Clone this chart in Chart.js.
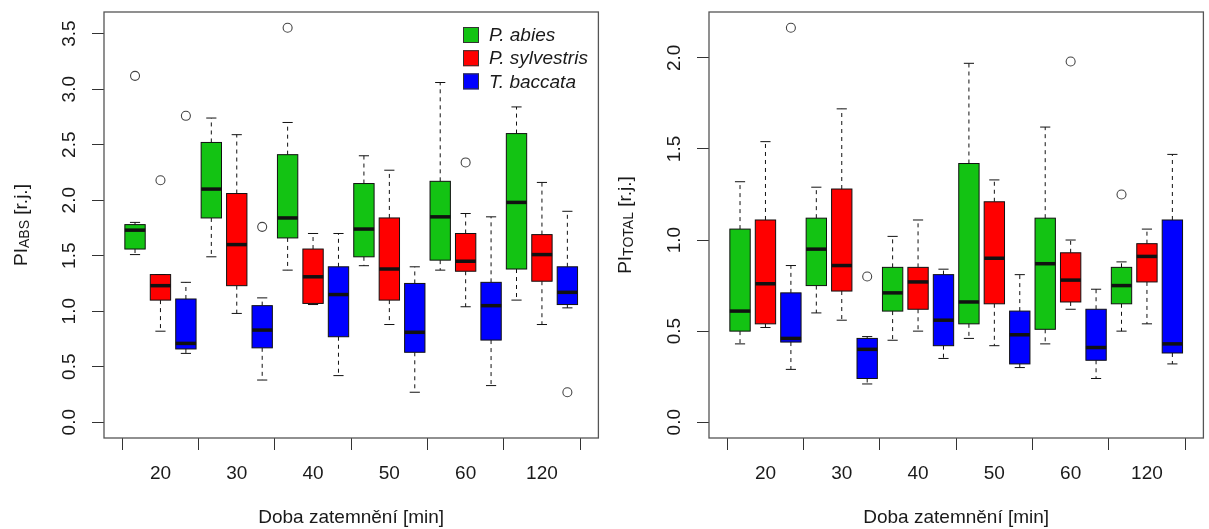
<!DOCTYPE html>
<html>
<head>
<meta charset="utf-8">
<script src="https://cdn.jsdelivr.net/npm/chart.js@4.4.1/dist/chart.umd.min.js"></script>
<style>
  html, body { margin: 0; padding: 0; background: #fff; }
  #wrap { position: relative; width: 1209px; height: 529px; }
  canvas { position: absolute; top: 0; }
  #absChart { left: 0; }
  #totalChart { left: 604px; }
</style>
</head>
<body>
<div id="wrap">
  <canvas id="absChart" width="604" height="529"></canvas>
  <canvas id="totalChart" width="605" height="529"></canvas>
</div>
<script>
const groups = ['20', '30', '40', '50', '60', '120'];
const species = ['P. abies', 'P. sylvestris', 'T. baccata'];
const speciesColors = ['#13c313', '#ff0000', '#0000ff'];

// [lower whisker, Q1, median, Q3, upper whisker] for each time
const absAbies      = [[1.51, 1.56, 1.73, 1.78, 1.80], [1.49, 1.84, 2.10, 2.52, 2.74], [1.37, 1.66, 1.84, 2.41, 2.70],
                       [1.41, 1.49, 1.74, 2.15, 2.40], [1.37, 1.46, 1.85, 2.17, 3.06], [1.10, 1.38, 1.98, 2.60, 2.84]];
const absSylvestris = [[0.82, 1.10, 1.23, 1.33, 1.33], [0.98, 1.23, 1.60, 2.06, 2.59], [1.06, 1.07, 1.31, 1.56, 1.70],
                       [0.88, 1.10, 1.38, 1.84, 2.27], [1.04, 1.36, 1.45, 1.70, 1.88], [0.88, 1.27, 1.51, 1.69, 2.16]];
const absBaccata    = [[0.62, 0.66, 0.71, 1.11, 1.26], [0.38, 0.67, 0.83, 1.05, 1.12], [0.42, 0.77, 1.15, 1.40, 1.70],
                       [0.27, 0.63, 0.81, 1.25, 1.40], [0.33, 0.74, 1.05, 1.26, 1.85], [1.03, 1.06, 1.17, 1.40, 1.90]];

const totalAbies      = [[0.43, 0.50, 0.61, 1.06, 1.32], [0.60, 0.75, 0.95, 1.12, 1.29], [0.45, 0.61, 0.71, 0.85, 1.02],
                         [0.46, 0.54, 0.66, 1.42, 1.97], [0.43, 0.51, 0.87, 1.12, 1.62], [0.50, 0.65, 0.75, 0.85, 0.88]];
const totalSylvestris = [[0.52, 0.54, 0.76, 1.11, 1.54], [0.56, 0.72, 0.86, 1.28, 1.72], [0.50, 0.62, 0.77, 0.85, 1.11],
                         [0.42, 0.65, 0.90, 1.21, 1.33], [0.62, 0.66, 0.78, 0.93, 1.00], [0.54, 0.77, 0.91, 0.98, 1.06]];
const totalBaccata    = [[0.29, 0.44, 0.46, 0.71, 0.86], [0.21, 0.24, 0.40, 0.46, 0.47], [0.35, 0.42, 0.56, 0.81, 0.84],
                         [0.30, 0.32, 0.48, 0.61, 0.81], [0.24, 0.34, 0.41, 0.62, 0.73], [0.32, 0.38, 0.43, 1.11, 1.47]];

// outliers as [time index, value]
const absAbiesOut      = [[0, 3.12], [2, 3.553]];
const absSylvestrisOut = [[0, 2.18], [4, 2.34]];
const absBaccataOut    = [[0, 2.76], [1, 1.76], [5, 0.27]];
const totalAbiesOut      = [[5, 1.25]];
const totalSylvestrisOut = [[4, 1.98]];
const totalBaccataOut    = [[0, 2.165], [1, 0.80]];

const absTicks = [0, 0.5, 1, 1.5, 2, 2.5, 3, 3.5];
const totalTicks = [0, 0.5, 1, 1.5, 2];

const FONT = '"Liberation Sans", Arial, Helvetica, sans-serif';
const FONT_SIZE = 19;
const TEXT = '#1a1a1a';
Chart.defaults.font.family = FONT;
Chart.defaults.font.size = FONT_SIZE;
Chart.defaults.color = TEXT;

// box i of species s sits at g*3 + s + 1, like boxplot(at = 1:18)
const nSpecies = species.length;
const boxPos = (g, s) => g * nSpecies + s + 1;
const groupEdges = groups.map((_, g) => g * nSpecies + 0.5).concat(groups.length * nSpecies + 0.5);
const groupMid = groups.map((_, g) => g * nSpecies + (nSpecies + 1) / 2);
const xLo = groupEdges[0], xHi = groupEdges[groupEdges.length - 1];
const xPad = (xHi - xLo) * 0.04;

const boxPlugin = {
  id: 'boxes',
  beforeDatasetsDraw(chart) {
    const {ctx, scales: {x, y}} = chart;
    chart.data.datasets.forEach((ds, s) => {
      ds.stats.forEach((st, g) => {
        const pos = boxPos(g, s);
        const cx = x.getPixelForValue(pos);
        const half = x.getPixelForValue(pos + 0.4) - cx;
        const cap = half / 2;
        const [lo, q1, med, q3, hi] = st.map(v => y.getPixelForValue(v));
        ctx.save();
        ctx.strokeStyle = '#111';
        ctx.lineWidth = 1;
        // whiskers
        ctx.setLineDash([4, 4]);
        ctx.beginPath();
        ctx.moveTo(cx, q3); ctx.lineTo(cx, hi);
        ctx.moveTo(cx, q1); ctx.lineTo(cx, lo);
        ctx.stroke();
        ctx.setLineDash([]);
        ctx.beginPath();
        ctx.moveTo(cx - cap, hi); ctx.lineTo(cx + cap, hi);
        ctx.moveTo(cx - cap, lo); ctx.lineTo(cx + cap, lo);
        ctx.stroke();
        // box
        ctx.fillStyle = ds.boxColor;
        ctx.fillRect(cx - half, q3, half * 2, q1 - q3);
        ctx.strokeRect(cx - half, q3, half * 2, q1 - q3);
        // median
        ctx.lineWidth = 3.5;
        ctx.beginPath();
        ctx.moveTo(cx - half, med); ctx.lineTo(cx + half, med);
        ctx.stroke();
        ctx.restore();
      });
    });
  },
  afterDraw(chart, args, opts) {
    const {ctx, chartArea: a} = chart;
    ctx.save();
    // frame
    ctx.strokeStyle = '#555';
    ctx.lineWidth = 1.3;
    ctx.strokeRect(a.left, a.top, a.right - a.left, a.bottom - a.top);

    // y title with subscript
    const big = FONT_SIZE + 'px ' + FONT;
    const small = Math.round(FONT_SIZE * 0.72) + 'px ' + FONT;
    ctx.fillStyle = TEXT;
    ctx.textBaseline = 'alphabetic';
    ctx.textAlign = 'left';
    ctx.font = big;
    const w1 = ctx.measureText(opts.title).width;
    const w3 = ctx.measureText(' ' + opts.unit).width;
    ctx.font = small;
    const w2 = ctx.measureText(opts.sub).width;
    const total = w1 + w2 + w3;
    ctx.translate(opts.titleX, (a.top + a.bottom) / 2);
    ctx.rotate(-Math.PI / 2);
    let tx = -total / 2;
    ctx.font = big;
    ctx.fillText(opts.title, tx, 0);
    tx += w1;
    ctx.font = small;
    ctx.fillText(opts.sub, tx, 1.5);
    tx += w2;
    ctx.font = big;
    ctx.fillText(' ' + opts.unit, tx, 0);
    ctx.restore();

    if (opts.legend) {
      ctx.save();
      ctx.font = 'italic ' + FONT_SIZE + 'px ' + FONT;
      ctx.textBaseline = 'middle';
      ctx.textAlign = 'left';
      chart.data.datasets.forEach((ds, s) => {
        const cy = opts.legendY + s * opts.legendStep;
        ctx.fillStyle = ds.boxColor;
        ctx.fillRect(opts.legendX, cy - 8, 16, 16);
        ctx.strokeStyle = '#333';
        ctx.lineWidth = 1;
        ctx.strokeRect(opts.legendX + 0.5, cy - 7.5, 15, 15);
        ctx.fillStyle = TEXT;
        ctx.fillText(ds.label, opts.legendX + 26, cy + 1);
      });
      ctx.restore();
    }
  }
};

function makeChart(id, series, outliers, ticks, sub, legend) {
  // y range like R: ylim = c(0, max) padded by 4%
  let top = 0;
  series.forEach(st => st.forEach(r => { top = Math.max(top, r[4]); }));
  outliers.forEach(o => o.forEach(p => { top = Math.max(top, p[1]); }));
  const yPad = top * 0.04;

  return new Chart(document.getElementById(id), {
    type: 'scatter',
    data: {
      datasets: species.map((name, s) => ({
        label: name,
        boxColor: speciesColors[s],
        stats: series[s],
        data: outliers[s].map(([g, v]) => ({x: boxPos(g, s), y: v})),
        pointStyle: 'circle',
        pointRadius: 4.5,
        pointBorderWidth: 1.1,
        pointBorderColor: '#444',
        pointBackgroundColor: 'rgba(0,0,0,0)'
      }))
    },
    options: {
      responsive: false,
      animation: false,
      events: [],
      layout: {padding: {left: 0, top: 12, right: 5, bottom: 0}},
      plugins: {
        legend: {display: false},
        tooltip: {enabled: false},
        boxes: {
          title: 'PI', sub: sub, unit: '[r.j.]', titleX: 27,
          legend: legend, legendX: 463, legendY: 35, legendStep: 23.2
        }
      },
      scales: {
        y: {
          type: 'linear',
          min: -yPad, max: top + yPad,
          afterBuildTicks: sc => { sc.ticks = ticks.map(v => ({value: v})); },
          afterFit: sc => { sc.width = id === 'absChart' ? 104 : 105; sc.paddingTop = 0; sc.paddingBottom = 0; },
          border: {display: false},
          grid: {drawOnChartArea: false, drawTicks: true, tickLength: 12, color: '#333'},
          ticks: {minRotation: 90, maxRotation: 90, crossAlign: 'center', padding: 9,
                  callback: v => v.toFixed(1)}
        },
        x: {
          type: 'linear', position: 'bottom', weight: 0,
          min: xLo - xPad, max: xHi + xPad,
          afterBuildTicks: sc => { sc.ticks = groupEdges.map(v => ({value: v})); },
          afterFit: sc => { sc.height = 12; sc.paddingLeft = 0; sc.paddingRight = 0; },
          border: {display: false},
          grid: {drawOnChartArea: false, drawTicks: true, tickLength: 12, color: '#333'},
          ticks: {display: false}
        },
        x2: {
          type: 'linear', position: 'bottom', weight: 1,
          min: xLo - xPad, max: xHi + xPad,
          afterBuildTicks: sc => { sc.ticks = groupMid.map(v => ({value: v})); },
          afterFit: sc => { sc.height = 79; sc.paddingLeft = 0; sc.paddingRight = 0; },
          border: {display: false},
          grid: {display: false, drawTicks: false},
          ticks: {padding: 12, autoSkip: false, maxRotation: 0, minRotation: 0,
                  callback: (v, i) => groups[i]},
          title: {display: true, text: 'Doba zatemnění [min]', padding: {top: 0, bottom: 0}}
        }
      }
    },
    plugins: [boxPlugin]
  });
}

makeChart('absChart',
  [absAbies, absSylvestris, absBaccata],
  [absAbiesOut, absSylvestrisOut, absBaccataOut],
  absTicks, 'ABS', true);

makeChart('totalChart',
  [totalAbies, totalSylvestris, totalBaccata],
  [totalAbiesOut, totalSylvestrisOut, totalBaccataOut],
  totalTicks, 'TOTAL', false);
</script>
</body>
</html>
